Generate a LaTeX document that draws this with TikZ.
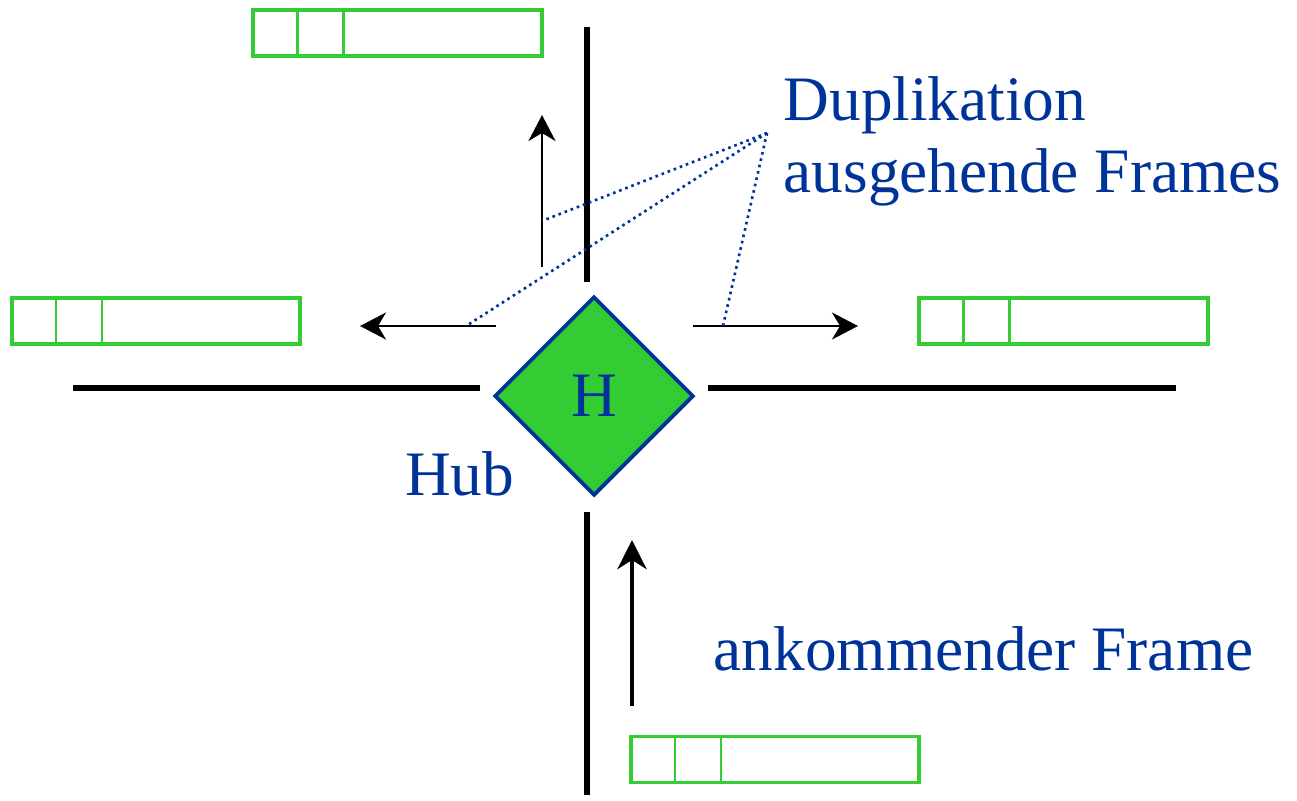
\documentclass[tikz,border=0pt]{standalone}
\usepackage{fontspec}
\setmainfont{Liberation Serif}
\usetikzlibrary{shapes.geometric,arrows.meta}
\definecolor{hubblue}{RGB}{0,51,153}
\definecolor{hubgreen}{RGB}{51,204,51}
\tikzset{
  cable/.style={line width=1.7pt},
  flow/.style={line width=0.6pt,-{Stealth[length=0.26cm,width=0.27cm,inset=0.08cm]}},
  frm/.style={draw=hubgreen,line width=1.1pt,minimum width=2.88cm,minimum height=0.46cm,inner sep=0pt},
  lbl/.style={text=hubblue,font=\fontsize{18}{22}\selectfont,inner sep=0pt},
  dup/.style={hubblue,line width=0.75pt,dash pattern=on 0.75pt off 1.1pt},
}
% two header fields at the left end of a frame
\newcommand\framefields[1]{%
  \draw[hubgreen,line width=0.6pt]
    ([xshift=0.46cm]#1.north west) -- ([xshift=0.46cm]#1.south west)
    ([xshift=0.92cm]#1.north west) -- ([xshift=0.92cm]#1.south west);}
\begin{document}
\begin{tikzpicture}[x=0.01cm,y=-0.01cm]
  \useasboundingbox (0,0) rectangle (1297,800);
  % cable segments
  \draw[cable] (587,27) -- (587,282);
  \draw[cable] (587,512) -- (587,795);
  \draw[cable] (73,388) -- (480,388);
  \draw[cable] (708,388) -- (1176,388);
  % hub
  \node[diamond,draw=hubblue,fill=hubgreen,line width=1.1pt,minimum width=1.99cm,
    minimum height=1.99cm,aspect=1,inner sep=0pt,lbl] (hub) at (594,396) {H};
  \node[lbl,anchor=base east] (hublbl) at (515,495) {Hub};
  % frames
  \node[frm] (ftop) at (397.5,33) {};
  \node[frm] (fleft) at (156,321) {};
  \node[frm] (fright) at (1063.5,321) {};
  \node[frm] (fin) at (775,759.5) {};
  \framefields{ftop}
  \framefields{fleft}
  \framefields{fright}
  \framefields{fin}
  % incoming and outgoing directions
  \coordinate (inA) at (632,706);
  \coordinate (inB) at (632,540);
  \draw[line width=1.4pt,-{Stealth[length=0.29cm,width=0.29cm,inset=0.09cm]}] (inA) -- (inB);
  \coordinate (upA) at (542,267);
  \coordinate (upB) at (542,115);
  \coordinate (ltA) at (496,326);
  \coordinate (ltB) at (360,326);
  \coordinate (rtA) at (693,326);
  \coordinate (rtB) at (858,326);
  \draw[flow] (upA) -- (upB);
  \draw[flow] (ltA) -- (ltB);
  \draw[flow] (rtA) -- (rtB);
  % labels
  \node[lbl,anchor=base west] (dupA) at (783,120) {Duplikation};
  \node[lbl,anchor=base west] (dupB) at (783,192) {ausgehende Frames};
  \node[lbl,anchor=base west] (inlbl) at (713,670) {ankommender Frame};
  \coordinate (dupsrc) at (767,133);
  \coordinate (upmark) at (542,221);
  \coordinate (ltmark) at (466,326);
  \coordinate (rtmark) at (723,326);
  \draw[dup] (dupsrc) -- (upmark);
  \draw[dup] (dupsrc) -- (ltmark);
  \draw[dup] (dupsrc) -- (rtmark);
\end{tikzpicture}
\end{document}
